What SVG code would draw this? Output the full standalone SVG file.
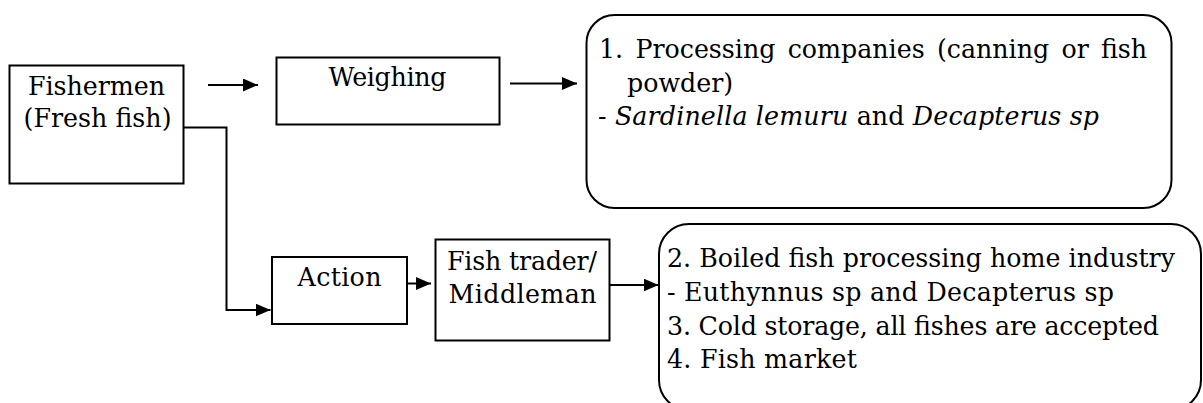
<svg xmlns="http://www.w3.org/2000/svg" width="1203" height="403" viewBox="0 0 1203 403">
  <style>
    .box { fill: #fff; stroke: #000; stroke-width: 2; }
    .lbl { font-family: "DejaVu Serif", "Liberation Serif", serif; font-size: 25.3px; fill: #000; }
    .mid { text-anchor: middle; }
    .it { font-style: italic; }
    .wire { fill: none; stroke: #000; stroke-width: 2; }
  </style>
  <defs>
    <marker id="head" markerUnits="userSpaceOnUse" markerWidth="16" markerHeight="14" refX="15" refY="6.5" orient="auto">
      <path d="M0,0 L15,6.5 L0,13 z" fill="#000"/>
    </marker>
  </defs>

  <rect width="1203" height="403" fill="#fff"/>

  <g id="connectors">
    <line class="wire" x1="208" y1="85" x2="258" y2="85" marker-end="url(#head)"/>
    <line class="wire" x1="510" y1="83.5" x2="577" y2="83.5" marker-end="url(#head)"/>
    <polyline class="wire" points="183.5,127.5 226.5,127.5 226.5,310 270.5,310" marker-end="url(#head)"/>
    <line class="wire" x1="407" y1="283.5" x2="431" y2="283.5" marker-end="url(#head)"/>
    <line class="wire" x1="609.5" y1="285" x2="658.5" y2="285" marker-end="url(#head)"/>
  </g>

  <g id="fishermen">
    <rect class="box" x="9.5" y="65.5" width="174" height="118"/>
    <text class="lbl mid" x="96.5" y="95" textLength="137">Fishermen</text>
    <text class="lbl mid" x="97.5" y="127" textLength="148">(Fresh fish)</text>
  </g>

  <g id="weighing">
    <rect class="box" x="276.5" y="57.5" width="223" height="67"/>
    <text class="lbl mid" x="387.5" y="86" textLength="118">Weighing</text>
  </g>

  <g id="action">
    <rect class="box" x="272" y="257" width="135" height="67"/>
    <text class="lbl mid" x="339.5" y="286" textLength="84">Action</text>
  </g>

  <g id="trader">
    <rect class="box" x="435.5" y="239.5" width="174" height="101"/>
    <text class="lbl mid" x="522" y="269.5" textLength="150">Fish trader/</text>
    <text class="lbl mid" x="522.5" y="302.5" textLength="148">Middleman</text>
  </g>

  <g id="processing">
    <rect class="box" x="586.5" y="15" width="585" height="193" rx="28" ry="28"/>
    <!-- justified first line: widened word gaps -->
    <text class="lbl" x="599" y="58" word-spacing="4.2">1. Processing companies (canning or fish</text>
    <text class="lbl" x="627" y="91.5">powder)</text>
    <text class="lbl" x="598" y="125" textLength="501">- <tspan class="it">Sardinella lemuru</tspan> and <tspan class="it">Decapterus sp</tspan></text>
  </g>

  <g id="outlets">
    <rect class="box" x="659" y="224" width="542" height="186" rx="30" ry="30"/>
    <text class="lbl" x="667" y="267" textLength="508">2. Boiled fish processing home industry</text>
    <text class="lbl" x="667" y="301" textLength="447">- Euthynnus sp and Decapterus sp</text>
    <text class="lbl" x="667" y="334.5" textLength="492">3. Cold storage, all fishes are accepted</text>
    <text class="lbl" x="667" y="368" textLength="190">4. Fish market</text>
  </g>
</svg>
